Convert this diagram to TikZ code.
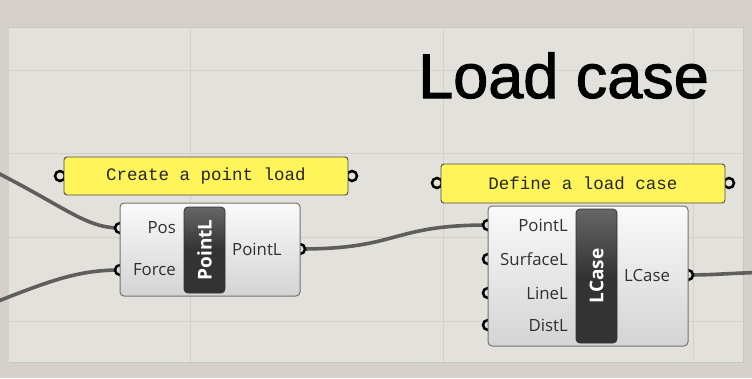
\documentclass[tikz,border=0pt]{standalone}
\usepackage{fontspec}
\setmainfont{Liberation Sans}
\newfontfamily\titlef[FakeBold=1.6]{Liberation Sans}
\newfontfamily\monof{Liberation Mono}
\newfontfamily\labf{Open Sans}
\definecolor{outerc}{HTML}{D5D0CA}
\definecolor{panelc}{HTML}{E2E1DB}
\definecolor{gridc}{HTML}{D3D1CB}
\definecolor{notec}{HTML}{FFF45A}
\definecolor{wirec}{HTML}{5E5E5C}
\definecolor{barc}{HTML}{333333}
\definecolor{labc}{HTML}{303030}
\tikzset{
  note/.style={draw=black!70, line width=0.9pt, fill=notec, rounded corners=3pt, inner sep=0pt,
    font=\monof\fontsize{17.5}{17.5}\selectfont, text=black!85},
  comp/.style={draw=black!55, line width=1pt, rounded corners=4pt, top color=white!96!gray, bottom color=black!17, inner sep=0pt},
  bar/.style={draw=black!80, line width=0.8pt, rounded corners=4pt, top color=black!60, bottom color=barc, middle color=barc, inner sep=0pt},
  bartext/.style={text=white, font=\labf\bfseries\fontsize{19}{19}\selectfont, rotate=90, inner sep=0pt},
  lab/.style={text=labc, font=\labf\fontsize{16.8}{16.8}\selectfont, inner sep=0pt},
  port/.style={draw=black, line width=2.5pt, fill=panelc},
  wire/.style={draw=wirec, line width=3.6pt},
  gridl/.style={draw=gridc, line width=1pt}
}
\begin{document}
\begin{tikzpicture}[x=1pt,y=-1pt]
\useasboundingbox (0,0) rectangle (752,378);
\clip (0,0) rectangle (752,378);
% background
\fill[outerc] (0,0) rectangle (752,378);
\fill[panelc] (9,27) rectangle (743,362);
\foreach \gx in {190,443,693} \draw[gridl] (\gx,0) -- (\gx,378);
\foreach \gy in {70,153,237,321} \draw[gridl] (9,\gy) -- (752,\gy);
\draw[draw=black!22, line width=0.8pt] (9,27) -- (743,27) -- (743,362) -- (9,362);

% title
\node[anchor=base west, inner sep=0pt, font=\titlef\fontsize{63}{63}\selectfont] (title) at (418,98) {Load case};

% coordinates for off-canvas wire ends
\coordinate (inA) at (-50,150);
\coordinate (inB) at (-50,320);
\coordinate (outR) at (790,272);

% ports of notes
\draw[port] (60,176) circle (5);
\draw[port] (352,176) circle (5);
\draw[port] (437,183) circle (5);
\draw[port] (729,183) circle (5);

% notes
\node[note, minimum width=284pt, minimum height=38pt] (n1) at (206,176) {Create a point load};
\node[note, minimum width=284pt, minimum height=39pt] (n2) at (583,183.5) {Define a load case};

% component port coordinates
\coordinate (pPos) at (120,228);
\coordinate (pForce) at (120,270);
\coordinate (pOut) at (300,249);
\coordinate (lPoint) at (488,225);
\coordinate (lSurf) at (488,259);
\coordinate (lLine) at (488,293);
\coordinate (lDist) at (488,325);
\coordinate (lOut) at (688,275);

% wires
\draw[wire] (inA) .. controls (60,200) and (80,228) .. (pPos);
\draw[wire] (inB) .. controls (40,285) and (70,270) .. (pForce);
\draw[wire] (pOut) .. controls (400,249) and (390,225) .. (lPoint);
\draw[wire] (lOut) .. controls (720,275) and (740,272) .. (outR);

% ports of components
\foreach \p in {pPos,pForce,pOut,lPoint,lSurf,lLine,lDist,lOut}
  \draw[port] (\p) circle (5);

% component PointL
\node[comp, minimum width=180pt, minimum height=93pt] (c1) at (210,249.5) {};
\node[bar, minimum width=41pt, minimum height=86pt] (b1) at (204.5,250) {};
\node[bartext] (t1) at (b1.center) {PointL};
\node[lab, anchor=east] (l1) at (176,228) {Pos};
\node[lab, anchor=east] (l2) at (176,270) {Force};
\node[lab, anchor=west] (l3) at (232,249) {PointL};

% component LCase
\node[comp, minimum width=200pt, minimum height=140pt] (c2) at (588,276) {};
\node[bar, minimum width=41pt, minimum height=134pt] (b2) at (596.5,276) {};
\node[bartext] (t2) at (b2.center) {LCase};
\node[lab, anchor=east] (m1) at (568,225) {PointL};
\node[lab, anchor=east] (m2) at (568,259) {SurfaceL};
\node[lab, anchor=east] (m3) at (568,293) {LineL};
\node[lab, anchor=east] (m4) at (568,325) {DistL};
\node[lab, anchor=west] (m5) at (624,275) {LCase};
\end{tikzpicture}
\end{document}
